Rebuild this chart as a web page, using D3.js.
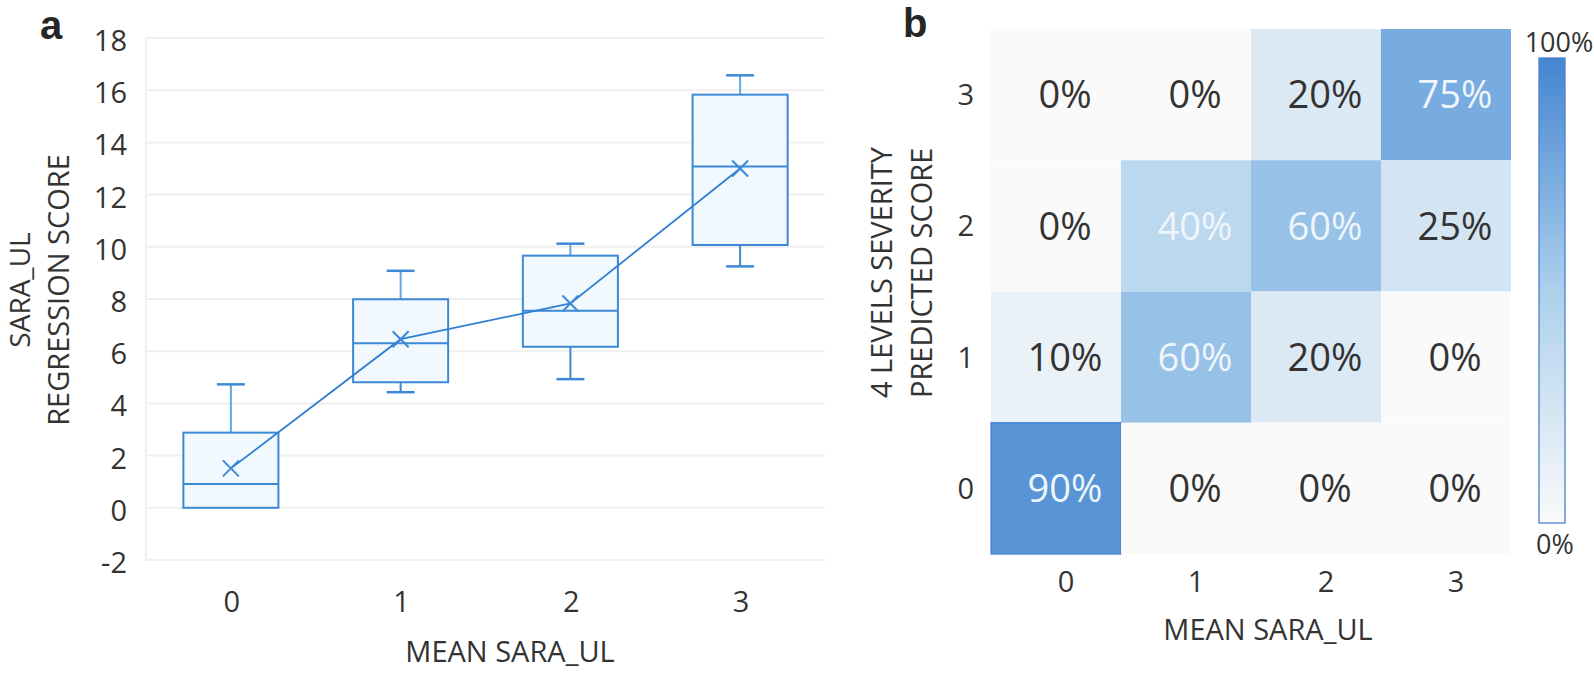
<!DOCTYPE html>
<html>
<head>
<meta charset="utf-8">
<script src="https://cdn.jsdelivr.net/npm/d3@7"></script>
<style>
  html, body { margin: 0; padding: 0; background: #fff; }
  svg { display: block; font-family: "Open Sans", sans-serif; }
</style>
</head>
<body>
<svg id="chart" width="1594" height="674"></svg>
<script>
// ---------- Panel a: box plot data ----------
const boxCategories = ["0", "1", "2", "3"];
const boxMin    = [0.00, 4.43, 4.93, 9.25];
const boxQ1     = [0.00, 4.81, 6.17, 10.07];
const boxMedian = [0.91, 6.30, 7.55, 13.08];
const boxQ3     = [2.88, 7.99, 9.66, 15.83];
const boxMax    = [4.73, 9.08, 10.12, 16.57];
const boxMean   = [1.51, 6.46, 7.83, 13.00];
const yTicksA   = [-2, 0, 2, 4, 6, 8, 10, 12, 14, 16, 18];

// ---------- Panel b: confusion matrix data ----------
const heatCols = [0, 1, 2, 3];          // MEAN SARA_UL
const heatRows = [3, 2, 1, 0];          // predicted score (top to bottom)
const heatRow3 = [0, 0, 20, 75];
const heatRow2 = [0, 40, 60, 25];
const heatRow1 = [10, 60, 20, 0];
const heatRow0 = [90, 0, 0, 0];
const legendLabels = ["100%", "0%"];

const svg = d3.select("#chart");
const textCol = "#333333";

// ================= Panel a =================
const a = { left: 146, right: 825, top: 38, bottom: 560 };
const xA = d3.scaleBand().domain(boxCategories).range([a.left, a.right]).paddingInner(0).paddingOuter(0);
const yA = d3.scaleLinear().domain([-2, 18]).range([a.bottom, a.top]);

const gA = svg.append("g");

// gridlines
gA.selectAll("line.grid").data(yTicksA).enter().append("line")
  .attr("x1", a.left).attr("x2", a.right)
  .attr("y1", d => yA(d)).attr("y2", d => yA(d))
  .attr("stroke", "#efefef").attr("stroke-width", 2);
// left axis line
gA.append("line").attr("x1", a.left).attr("x2", a.left)
  .attr("y1", a.top).attr("y2", a.bottom)
  .attr("stroke", "#efefef").attr("stroke-width", 2);

// y tick labels
const yAxisA = d3.axisLeft(yA).tickValues(yTicksA).tickSize(0).tickPadding(0).tickFormat(d => String(d));
const yAxG = gA.append("g").attr("transform", `translate(${a.left - 19},2)`).call(yAxisA);
yAxG.select(".domain").remove();
yAxG.selectAll("text").attr("font-size", 29).attr("fill", textCol)
  .attr("font-family", "Open Sans, sans-serif").attr("dy", "0.36em");

// x tick labels
const xAxisA = d3.axisBottom(xA).tickSize(0).tickPadding(0);
const xAxG = gA.append("g").attr("transform", `translate(1,${a.bottom + 31})`).call(xAxisA);
xAxG.select(".domain").remove();
xAxG.selectAll("text").attr("font-size", 29).attr("fill", textCol)
  .attr("font-family", "Open Sans, sans-serif").attr("dy", "0.71em");

// boxes
const boxData = boxCategories.map((c, i) => ({
  c, min: boxMin[i], q1: boxQ1[i], med: boxMedian[i], q3: boxQ3[i], max: boxMax[i], mean: boxMean[i]
}));
const bw = xA.bandwidth() * 0.56;
const capW = 28;
const boxStroke = "#3d89d6";
const lightStroke = "#62a6e2";

const bg = gA.selectAll("g.box").data(boxData).enter().append("g");
bg.each(function(d) {
  const g = d3.select(this);
  const cx = xA(d.c) + xA.bandwidth() / 2;
  if (d.max > d.q3) {
    g.append("line").attr("x1", cx).attr("x2", cx).attr("y1", yA(d.q3)).attr("y2", yA(d.max))
      .attr("stroke", lightStroke).attr("stroke-width", 2);
    g.append("line").attr("x1", cx - capW / 2).attr("x2", cx + capW / 2).attr("y1", yA(d.max)).attr("y2", yA(d.max))
      .attr("stroke", boxStroke).attr("stroke-width", 2.5);
  }
  if (d.min < d.q1) {
    g.append("line").attr("x1", cx).attr("x2", cx).attr("y1", yA(d.q1)).attr("y2", yA(d.min))
      .attr("stroke", boxStroke).attr("stroke-width", 2);
    g.append("line").attr("x1", cx - capW / 2).attr("x2", cx + capW / 2).attr("y1", yA(d.min)).attr("y2", yA(d.min))
      .attr("stroke", boxStroke).attr("stroke-width", 2.5);
  }
  g.append("rect").attr("x", cx - bw / 2).attr("width", bw)
    .attr("y", yA(d.q3)).attr("height", yA(d.q1) - yA(d.q3))
    .attr("fill", "#f1f8fe").attr("stroke", boxStroke).attr("stroke-width", 2);
  g.append("line").attr("x1", cx - bw / 2).attr("x2", cx + bw / 2)
    .attr("y1", yA(d.med)).attr("y2", yA(d.med))
    .attr("stroke", boxStroke).attr("stroke-width", 2);
});

// mean line
const meanLine = d3.line().x(d => xA(d.c) + xA.bandwidth() / 2).y(d => yA(d.mean));
gA.append("path").datum(boxData).attr("d", meanLine)
  .attr("fill", "none").attr("stroke", "#2f7fd2").attr("stroke-width", 1.8);

// mean markers (x)
const mk = 8;
gA.selectAll("path.mean").data(boxData).enter().append("path")
  .attr("d", d => {
    const x = xA(d.c) + xA.bandwidth() / 2, y = yA(d.mean);
    return `M${x - mk},${y - mk}L${x + mk},${y + mk}M${x - mk},${y + mk}L${x + mk},${y - mk}`;
  })
  .attr("stroke", "#3d89d6").attr("stroke-width", 2).attr("fill", "none");

// axis titles
gA.append("text").attr("x", 510).attr("y", 662).attr("text-anchor", "middle")
  .attr("font-size", 29).attr("fill", textCol).text("MEAN SARA_UL");
gA.append("text").attr("transform", "translate(30,290) rotate(-90)").attr("text-anchor", "middle")
  .attr("font-size", 28).attr("fill", textCol).text("SARA_UL");
gA.append("text").attr("transform", "translate(69,290) rotate(-90)").attr("text-anchor", "middle")
  .attr("font-size", 29).attr("fill", textCol).text("REGRESSION SCORE");

// panel label
svg.append("text").attr("x", 40).attr("y", 39).attr("font-family", "Liberation Sans, Arial, sans-serif")
  .attr("font-weight", "bold").attr("font-size", 40).attr("fill", "#262626").text("a");

// ================= Panel b =================
const b = { left: 991, right: 1511, top: 29, bottom: 554 };
const xB = d3.scaleBand().domain(heatCols).range([b.left, b.right]);
const yB = d3.scaleBand().domain(heatRows).range([b.top, b.bottom]);
const color = d3.scaleLinear().domain([0, 50, 100]).range(["#fafafa", "#acd0ec", "#4485d1"]);

const rowsData = { 3: heatRow3, 2: heatRow2, 1: heatRow1, 0: heatRow0 };
const cells = [];
heatRows.forEach(r => heatCols.forEach((c, i) => cells.push({ r, c, v: rowsData[r][i] })));

const gB = svg.append("g");
gB.selectAll("rect.cell").data(cells).enter().append("rect")
  .attr("x", d => xB(d.c)).attr("y", d => yB(d.r))
  .attr("width", xB.bandwidth()).attr("height", yB.bandwidth())
  .attr("fill", d => color(d.v))
  .attr("stroke", d => d.v >= 90 ? "#3f7fd0" : "none")
  .attr("stroke-width", d => d.v >= 90 ? 1.2 : 0);

gB.selectAll("text.val").data(cells).enter().append("text")
  .attr("x", d => xB(d.c) + xB.bandwidth() / 2 + 9)
  .attr("y", d => yB(d.r) + yB.bandwidth() / 2)
  .attr("dy", "0.36em").attr("text-anchor", "middle")
  .attr("font-size", 38)
  .attr("fill", d => d.v >= 40 ? "#eef6fc" : textCol)
  .text(d => d.v + "%");

// x tick labels
const xAxisB = d3.axisBottom(xB).tickSize(0).tickPadding(0);
const xBG = gB.append("g").attr("transform", `translate(10,${b.bottom + 17})`).call(xAxisB);
xBG.select(".domain").remove();
xBG.selectAll("text").attr("font-size", 29).attr("fill", textCol)
  .attr("font-family", "Open Sans, sans-serif").attr("dy", "0.71em");

// y tick labels
const yAxisB = d3.axisLeft(yB).tickSize(0).tickPadding(0);
const yBG = gB.append("g").attr("transform", `translate(${b.left - 17},0)`).call(yAxisB);
yBG.select(".domain").remove();
yBG.selectAll("text").attr("font-size", 29).attr("fill", textCol)
  .attr("font-family", "Open Sans, sans-serif").attr("dy", "0.36em");

// axis titles
gB.append("text").attr("x", 1268).attr("y", 640).attr("text-anchor", "middle")
  .attr("font-size", 29).attr("fill", textCol).text("MEAN SARA_UL");
gB.append("text").attr("transform", "translate(892,398) rotate(-90)").attr("text-anchor", "start")
  .attr("font-size", 29).attr("fill", textCol).text("4 LEVELS SEVERITY");
gB.append("text").attr("transform", "translate(932,398) rotate(-90)").attr("text-anchor", "start")
  .attr("font-size", 29).attr("fill", textCol).text("PREDICTED SCORE");

// panel label
svg.append("text").attr("x", 903).attr("y", 37).attr("font-family", "Liberation Sans, Arial, sans-serif")
  .attr("font-weight", "bold").attr("font-size", 40).attr("fill", "#262626").text("b");

// colour bar
const defs = svg.append("defs");
const grad = defs.append("linearGradient").attr("id", "cbar").attr("x1", 0).attr("x2", 0).attr("y1", 1).attr("y2", 0);
d3.range(0, 101, 10).forEach(v => grad.append("stop").attr("offset", v / 100).attr("stop-color", color(v)));
const cb = { x: 1539, y: 58, w: 26, h: 465 };
const yCb = d3.scaleLinear().domain([0, 100]).range([cb.y + cb.h, cb.y]);
svg.append("rect").attr("x", cb.x).attr("y", yCb(100)).attr("width", cb.w).attr("height", yCb(0) - yCb(100))
  .attr("fill", "url(#cbar)").attr("stroke", "#4a80d2").attr("stroke-width", 1.3);
svg.append("text").attr("x", 1559).attr("y", 52).attr("text-anchor", "middle")
  .attr("font-size", 27).attr("fill", textCol).text(legendLabels[0]);
svg.append("text").attr("x", 1555).attr("y", 554).attr("text-anchor", "middle")
  .attr("font-size", 27).attr("fill", textCol).text(legendLabels[1]);
</script>
</body>
</html>
